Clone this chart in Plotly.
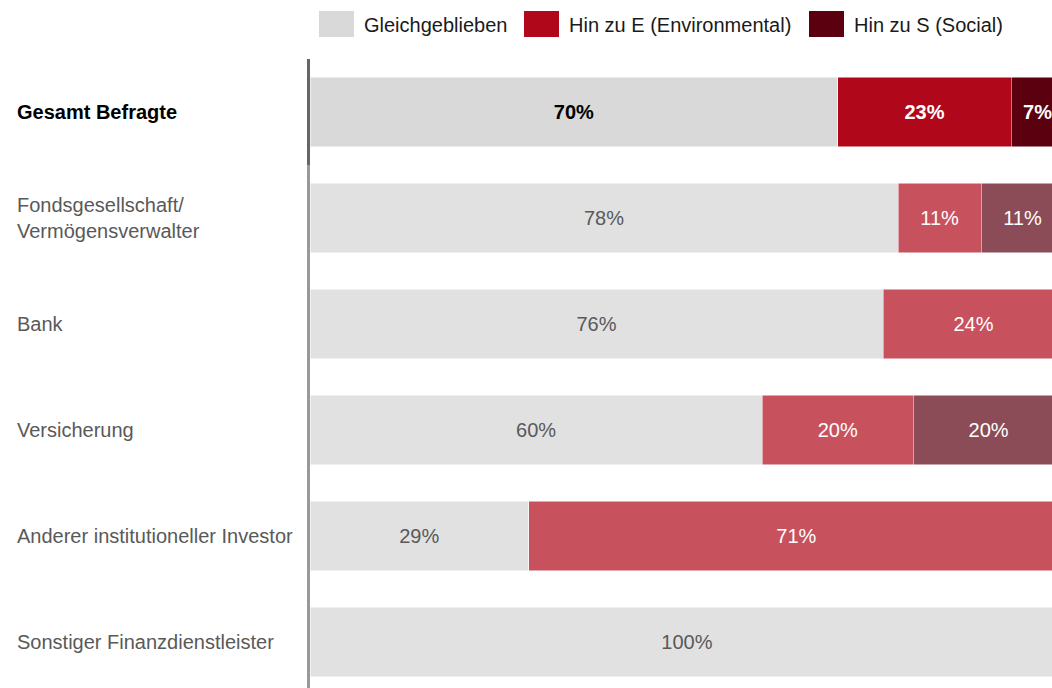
import plotly.graph_objects as go

categories = ["Gesamt Befragte", "Fondsgesellschaft/<br>Vermögensverwalter", "Bank",
              "Versicherung", "Anderer institutioneller Investor", "Sonstiger Finanzdienstleister"]
gleich = [70, 78, 76, 60, 29, 100]
env = [23, 11, 24, 20, 71, 0]
soc = [7, 11, 0, 20, 0, 0]
series_names = ["Gleichgeblieben", "Hin zu E (Environmental)", "Hin zu S (Social)"]

# colours: top row full, other rows lighter
full_cols = ["#d9d9d9", "#b0071a", "#5a000f"]
light_cols = ["#e1e1e1", "#c8515e", "#8b4c57"]

FONT = "Liberation Sans, Arial, sans-serif"
FS = 20
W, H = 1052, 688
ML, MR, MT, MB = 310, 0, 59, 0
PW, PH = W - ML - MR, H - MT - MB

def px_x(p):
    return (p - ML) / PW

def px_y(p):
    return (H - MB - p) / PH

fig = go.Figure()
for i, (name, vals) in enumerate(zip(series_names, [gleich, env, soc])):
    cols = [full_cols[i] if k == 0 else light_cols[i] for k in range(len(categories))]
    if i == 0:
        tcols = ["#000000" if k == 0 else "#595959" for k in range(len(categories))]
    else:
        tcols = ["#ffffff"] * len(categories)
    texts = [("<b>%d%%</b>" % v if k == 0 else "%d%%" % v) if v > 0 else "" for k, v in enumerate(vals)]
    fig.add_trace(go.Bar(
        y=categories, x=vals, orientation="h", name=name,
        marker=dict(color=cols, line=dict(color="#ffffff", width=0.5)),
        text=texts, textposition="inside", insidetextanchor="middle",
        textfont=dict(family=FONT, size=FS, color=tcols),
        showlegend=False, hoverinfo="skip",
    ))

# category labels (left aligned)
for k, c in enumerate(categories):
    fig.add_annotation(
        x=px_x(15), xref="paper", y=c, yref="y", xanchor="left", yanchor="middle",
        align="left", showarrow=False,
        text=("<b>%s</b>" % c) if k == 0 else c,
        font=dict(family=FONT, size=FS, color="#000000" if k == 0 else "#595959"),
    )

# custom legend
leg_x = [319, 524, 809]
for i, name in enumerate(series_names):
    fig.add_shape(type="rect", xref="paper", yref="paper",
                  x0=px_x(leg_x[i]), x1=px_x(leg_x[i] + 35), y0=px_y(37), y1=px_y(11),
                  fillcolor=full_cols[i], line=dict(width=0))
    fig.add_annotation(x=px_x(leg_x[i] + 43), y=px_y(25), xref="paper", yref="paper",
                       xanchor="left", yanchor="middle", showarrow=False, text=name,
                       font=dict(family=FONT, size=FS, color="#1a1a1a"))

# darker upper axis segment (first category band)
fig.add_shape(type="rect", xref="paper", yref="y", x0=px_x(307), x1=px_x(310),
              y0=-0.5, y1=0.5, fillcolor="#666666", line=dict(width=0), layer="above")

fig.update_layout(
    width=W, height=H, barmode="stack", bargap=0.34,
    margin=dict(l=ML, r=MR, t=MT, b=MB, pad=0),
    paper_bgcolor="white", plot_bgcolor="white",
    font=dict(family=FONT, size=FS, color="#595959"),
    xaxis=dict(range=[0, 98.4], visible=False, showgrid=False, zeroline=False),
    yaxis=dict(type="category", categoryorder="array", categoryarray=categories,
               range=[5.434, -0.5], showticklabels=False, showgrid=False, zeroline=False,
               showline=True, linecolor="#999999", linewidth=3, ticks=""),
)

fig.write_html(
    "out.html",
    config={"displayModeBar": False},
    post_script="document.body.style.margin='0';document.documentElement.style.overflow='hidden';document.body.style.overflow='hidden';",
)
